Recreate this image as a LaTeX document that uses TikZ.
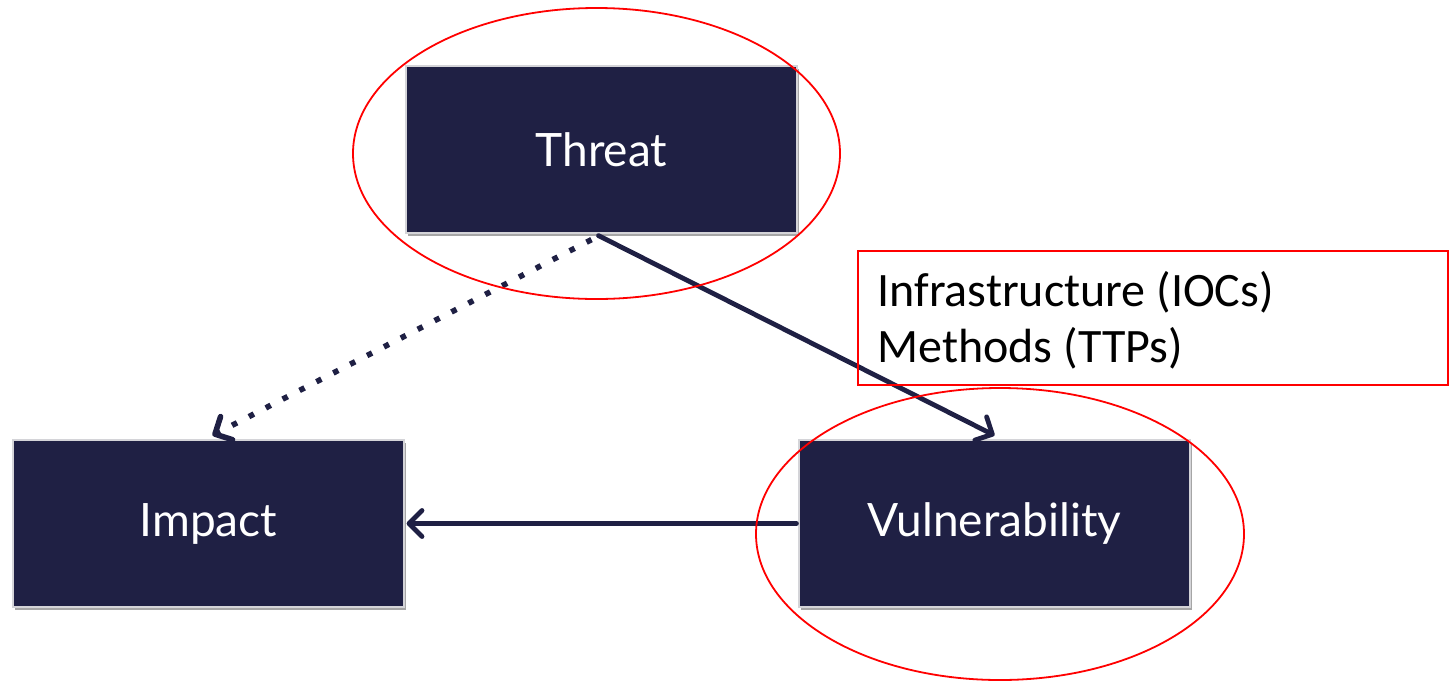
\documentclass[tikz,border=0pt]{standalone}
\usepackage{fontspec}
\newfontfamily\boxfont{Lato}
\newfontfamily\notefont{Carlito}
\usetikzlibrary{arrows.meta,shadows,shapes.geometric}
\definecolor{navy}{HTML}{1F2044}
\definecolor{edgegray}{HTML}{D4D4D8}
\definecolor{mark}{HTML}{FF0000}
\tikzset{
  x=0.5pt, y=-0.5pt,
  stagebox/.style={rectangle, fill=navy, draw=edgegray, line width=0.6pt,
    minimum width=195.5pt, minimum height=83.5pt, inner sep=0pt,
    text=white, font=\boxfont\fontsize{23}{27}\selectfont,
    drop shadow={shadow xshift=1pt, shadow yshift=-1.5pt, opacity=0.35, fill=black}},
  ring/.style={ellipse, draw=mark, line width=0.9pt, inner sep=0pt},
  link/.style={draw=navy, line width=2.4pt, line cap=round,
    -{Straight Barb[length=6.5pt, width=13pt, line cap=round, line join=round]}},
  hint/.style={link, line width=2.8pt, line cap=butt, dash pattern=on 2.8pt off 6.7pt},
  notetext/.style={anchor=base west, inner sep=0pt, font=\notefont\fontsize{24}{28}\selectfont}
}
\begin{document}
\begin{tikzpicture}
\useasboundingbox (0,0) rectangle (1450,681);

% the three stages
\node[stagebox] (threat) at (601.5,149.5) {Threat};
\node[stagebox] (impact) at (208.5,523.5) {Impact};
\node[stagebox] (vuln) at (994.5,523.5) {Vulnerability};

% connectors
\draw[link] ([xshift=-1.5pt,yshift=-1pt]threat.south) -- ([yshift=2pt]vuln.north);
\draw[link] ([xshift=-1pt]vuln.west) -- ([xshift=1pt]impact.east);
\draw[hint] ([xshift=-5pt,yshift=-3pt]threat.south) -- ([xshift=2pt,yshift=2pt]impact.north);

% highlighted stages
\node[ring, minimum width=243.5pt, minimum height=145.5pt] (threatring) at (596.5,153.5) {};
\node[ring, minimum width=244pt, minimum height=146pt] (vulnring) at (1000,534) {};

% annotation box
\node[draw=mark, line width=0.9pt, fill=none, anchor=north west, inner sep=0pt,
      minimum width=295pt, minimum height=67pt] (note) at (857,250) {};
\node[notetext] (noteA) at (877,306) {Infrastructure (IOCs)};
\node[notetext] (noteB) at (877,362) {Methods (TTPs)};
\end{tikzpicture}
\end{document}
